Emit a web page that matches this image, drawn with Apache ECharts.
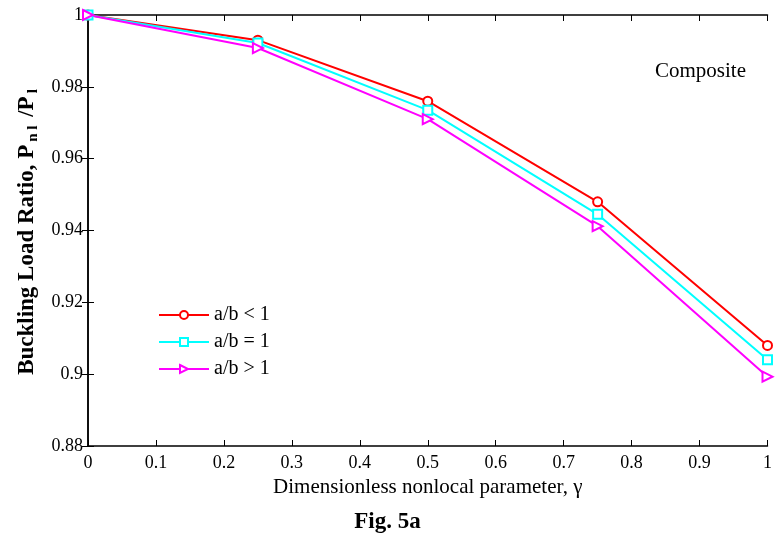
<!DOCTYPE html>
<html>
<head>
<meta charset="utf-8">
<script src="https://cdn.jsdelivr.net/npm/echarts@6/dist/echarts.min.js"></script>
<style>
  html, body { margin: 0; padding: 0; background: #fff; }
  #chart { width: 775px; height: 535px; }
</style>
</head>
<body>
<div id="chart"></div>
<script>
// Nonlocal parameter values (x) and buckling load ratios for each aspect ratio
const gamma = [0, 0.25, 0.5, 0.75, 1];
const ratioLess = [1, 0.993, 0.976, 0.948, 0.908];
const ratioEqual = [1, 0.9922, 0.9735, 0.9445, 0.904];
const ratioGreater = [1, 0.9908, 0.971, 0.9412, 0.8993];
const seriesNames = ['a/b < 1', 'a/b = 1', 'a/b > 1'];
const xTicks = [0, 0.1, 0.2, 0.3, 0.4, 0.5, 0.6, 0.7, 0.8, 0.9, 1];
const yTicks = [0.88, 0.9, 0.92, 0.94, 0.96, 0.98, 1];

const serif = 'Liberation Serif';
const pairs = (ys) => gamma.map((g, i) => [g, ys[i]]);
const triRight = 'path://M0,0 L10,5 L0,10 Z';

function fmtTick(v) {
  return String(Math.round(v * 100) / 100);
}

const chart = echarts.init(document.getElementById('chart'), null, { renderer: 'canvas' });

const xBase = {
  type: 'value', min: xTicks[0], max: xTicks[xTicks.length - 1], interval: 0.1,
  axisLine: { lineStyle: { color: '#000', width: 1.5 } },
  axisTick: { inside: true, length: 6, lineStyle: { color: '#000', width: 1 } },
  splitLine: { show: false }
};
const yBase = {
  type: 'value', min: yTicks[0], max: yTicks[yTicks.length - 1], interval: 0.02,
  axisLine: { lineStyle: { color: '#000', width: 1.5 } },
  axisTick: { inside: true, length: 6, lineStyle: { color: '#000', width: 1 } },
  splitLine: { show: false }
};

function lineSeries(name, ys, color, symbol, size) {
  return {
    name: name, type: 'line', data: pairs(ys),
    xAxisIndex: 0, yAxisIndex: 0,
    symbol: symbol, symbolSize: size,
    showAllSymbol: true,
    lineStyle: { color: color, width: 2 },
    itemStyle: { color: '#fff', borderColor: color, borderWidth: 2 },
    emphasis: { disabled: true },
    animation: false
  };
}

chart.setOption({
  backgroundColor: '#fff',
  animation: false,
  grid: { left: 88, right: 2, top: 15, bottom: 89, containLabel: false },
  legend: {
    data: seriesNames,
    orient: 'vertical',
    left: 153, top: 300,
    itemWidth: 50, itemHeight: 10, itemGap: 7,
    textStyle: { fontFamily: serif, fontSize: 20, color: '#000' }
  },
  xAxis: [
    Object.assign({}, xBase, {
      position: 'bottom',
      name: 'Dimensionless nonlocal parameter, γ',
      nameLocation: 'middle', nameGap: 30,
      nameTextStyle: { fontFamily: serif, fontSize: 21, color: '#000' },
      axisLabel: { margin: 8, fontFamily: serif, fontSize: 18, color: '#000', formatter: fmtTick }
    }),
    Object.assign({}, xBase, { position: 'top', axisLabel: { show: false } })
  ],
  yAxis: [
    Object.assign({}, yBase, {
      position: 'left',
      name: '{b|Buckling Load Ratio, P}{s|n l}{b| /P}{s|l}',
      nameLocation: 'middle', nameGap: 47,
      nameTextStyle: {
        rich: {
          b: { fontFamily: serif, fontSize: 23, fontWeight: 'bold', color: '#000', lineHeight: 28 },
          s: { fontFamily: serif, fontSize: 15, fontWeight: 'bold', color: '#000', lineHeight: 28, padding: [13, 3, 0, 3] }
        }
      },
      axisLabel: { margin: 5, fontFamily: serif, fontSize: 18, color: '#000', formatter: fmtTick }
    }),
    Object.assign({}, yBase, { position: 'right', axisLabel: { show: false } })
  ],
  series: [
    lineSeries(seriesNames[0], ratioLess, '#ff0000', 'circle', 9),
    lineSeries(seriesNames[1], ratioEqual, '#00ffff', 'rect', 9),
    lineSeries(seriesNames[2], ratioGreater, '#ff00ff', triRight, 10)
  ],
  graphic: [
    {
      type: 'text', left: 655, top: 61,
      style: { text: 'Composite', fontFamily: serif, fontSize: 21, fill: '#000' }
    },
    {
      type: 'text', left: 'center', top: 511,
      style: { text: 'Fig. 5a', fontFamily: serif, fontSize: 23, fontWeight: 'bold', fill: '#000' }
    }
  ]
});
</script>
</body>
</html>
